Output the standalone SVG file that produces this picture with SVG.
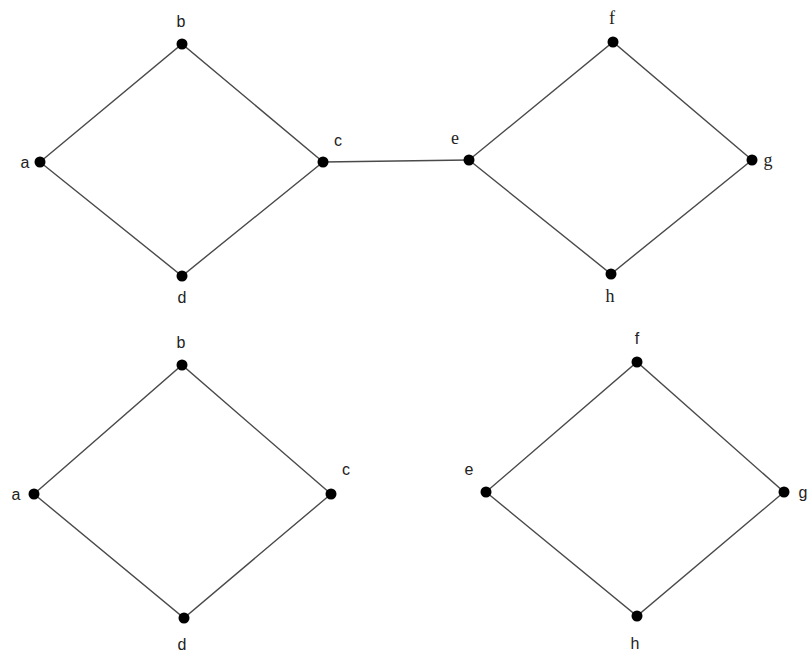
<svg xmlns="http://www.w3.org/2000/svg" width="809" height="657" viewBox="0 0 809 657">
<style>
.e{stroke:#4a4a4a;stroke-width:1.4;fill:none}
.n circle{fill:#000}
.s{font-family:"Liberation Sans",Arial,sans-serif;font-size:16px;fill:#222;text-anchor:middle}
.t{font-family:"Liberation Serif","Times New Roman",serif;font-size:18px;fill:#222;text-anchor:middle}
</style>
<rect width="809" height="657" fill="#fff"/>
<g id="connectors">
<polyline class="e" points="40,162 182,44 323,162 182,276 40,162"/>
<line class="e" x1="323" y1="162" x2="469" y2="160"/>
<polyline class="e" points="469,160 613,42 752,160 611,274 469,160"/>
<polyline class="e" points="34,494 182,365 331,494 184,618 34,494"/>
<polyline class="e" points="486,492 637,362 784,492 637,616 486,492"/>
</g>
<g id="t-a" class="n"><circle cx="40" cy="162" r="5.5"/><text class="s" x="25" y="168">a</text></g>
<g id="t-b" class="n"><circle cx="182" cy="44" r="5.5"/><text class="s" x="181" y="27">b</text></g>
<g id="t-c" class="n"><circle cx="323" cy="162" r="5.5"/><text class="s" x="338" y="146">c</text></g>
<g id="t-d" class="n"><circle cx="182" cy="276" r="5.5"/><text class="s" x="182" y="303">d</text></g>
<g id="t-e" class="n"><circle cx="469" cy="160" r="5.5"/><text class="t" x="455" y="144">e</text></g>
<g id="t-f" class="n"><circle cx="613" cy="42" r="5.5"/><text class="t" x="612" y="24">f</text></g>
<g id="t-g" class="n"><circle cx="752" cy="160" r="5.5"/><text class="t" x="768" y="166">g</text></g>
<g id="t-h" class="n"><circle cx="611" cy="274" r="5.5"/><text class="t" x="610" y="302">h</text></g>
<g id="b-a" class="n"><circle cx="34" cy="494" r="5.5"/><text class="s" x="16" y="500">a</text></g>
<g id="b-b" class="n"><circle cx="182" cy="365" r="5.5"/><text class="s" x="181" y="348">b</text></g>
<g id="b-c" class="n"><circle cx="331" cy="494" r="5.5"/><text class="s" x="346" y="475">c</text></g>
<g id="b-d" class="n"><circle cx="184" cy="618" r="5.5"/><text class="s" x="182" y="650">d</text></g>
<g id="b-e" class="n"><circle cx="486" cy="492" r="5.5"/><text class="s" x="469" y="475">e</text></g>
<g id="b-f" class="n"><circle cx="637" cy="362" r="5.5"/><text class="s" x="637" y="344">f</text></g>
<g id="b-g" class="n"><circle cx="784" cy="492" r="5.5"/><text class="s" x="803" y="498">g</text></g>
<g id="b-h" class="n"><circle cx="637" cy="616" r="5.5"/><text class="s" x="635" y="649">h</text></g>
</svg>
